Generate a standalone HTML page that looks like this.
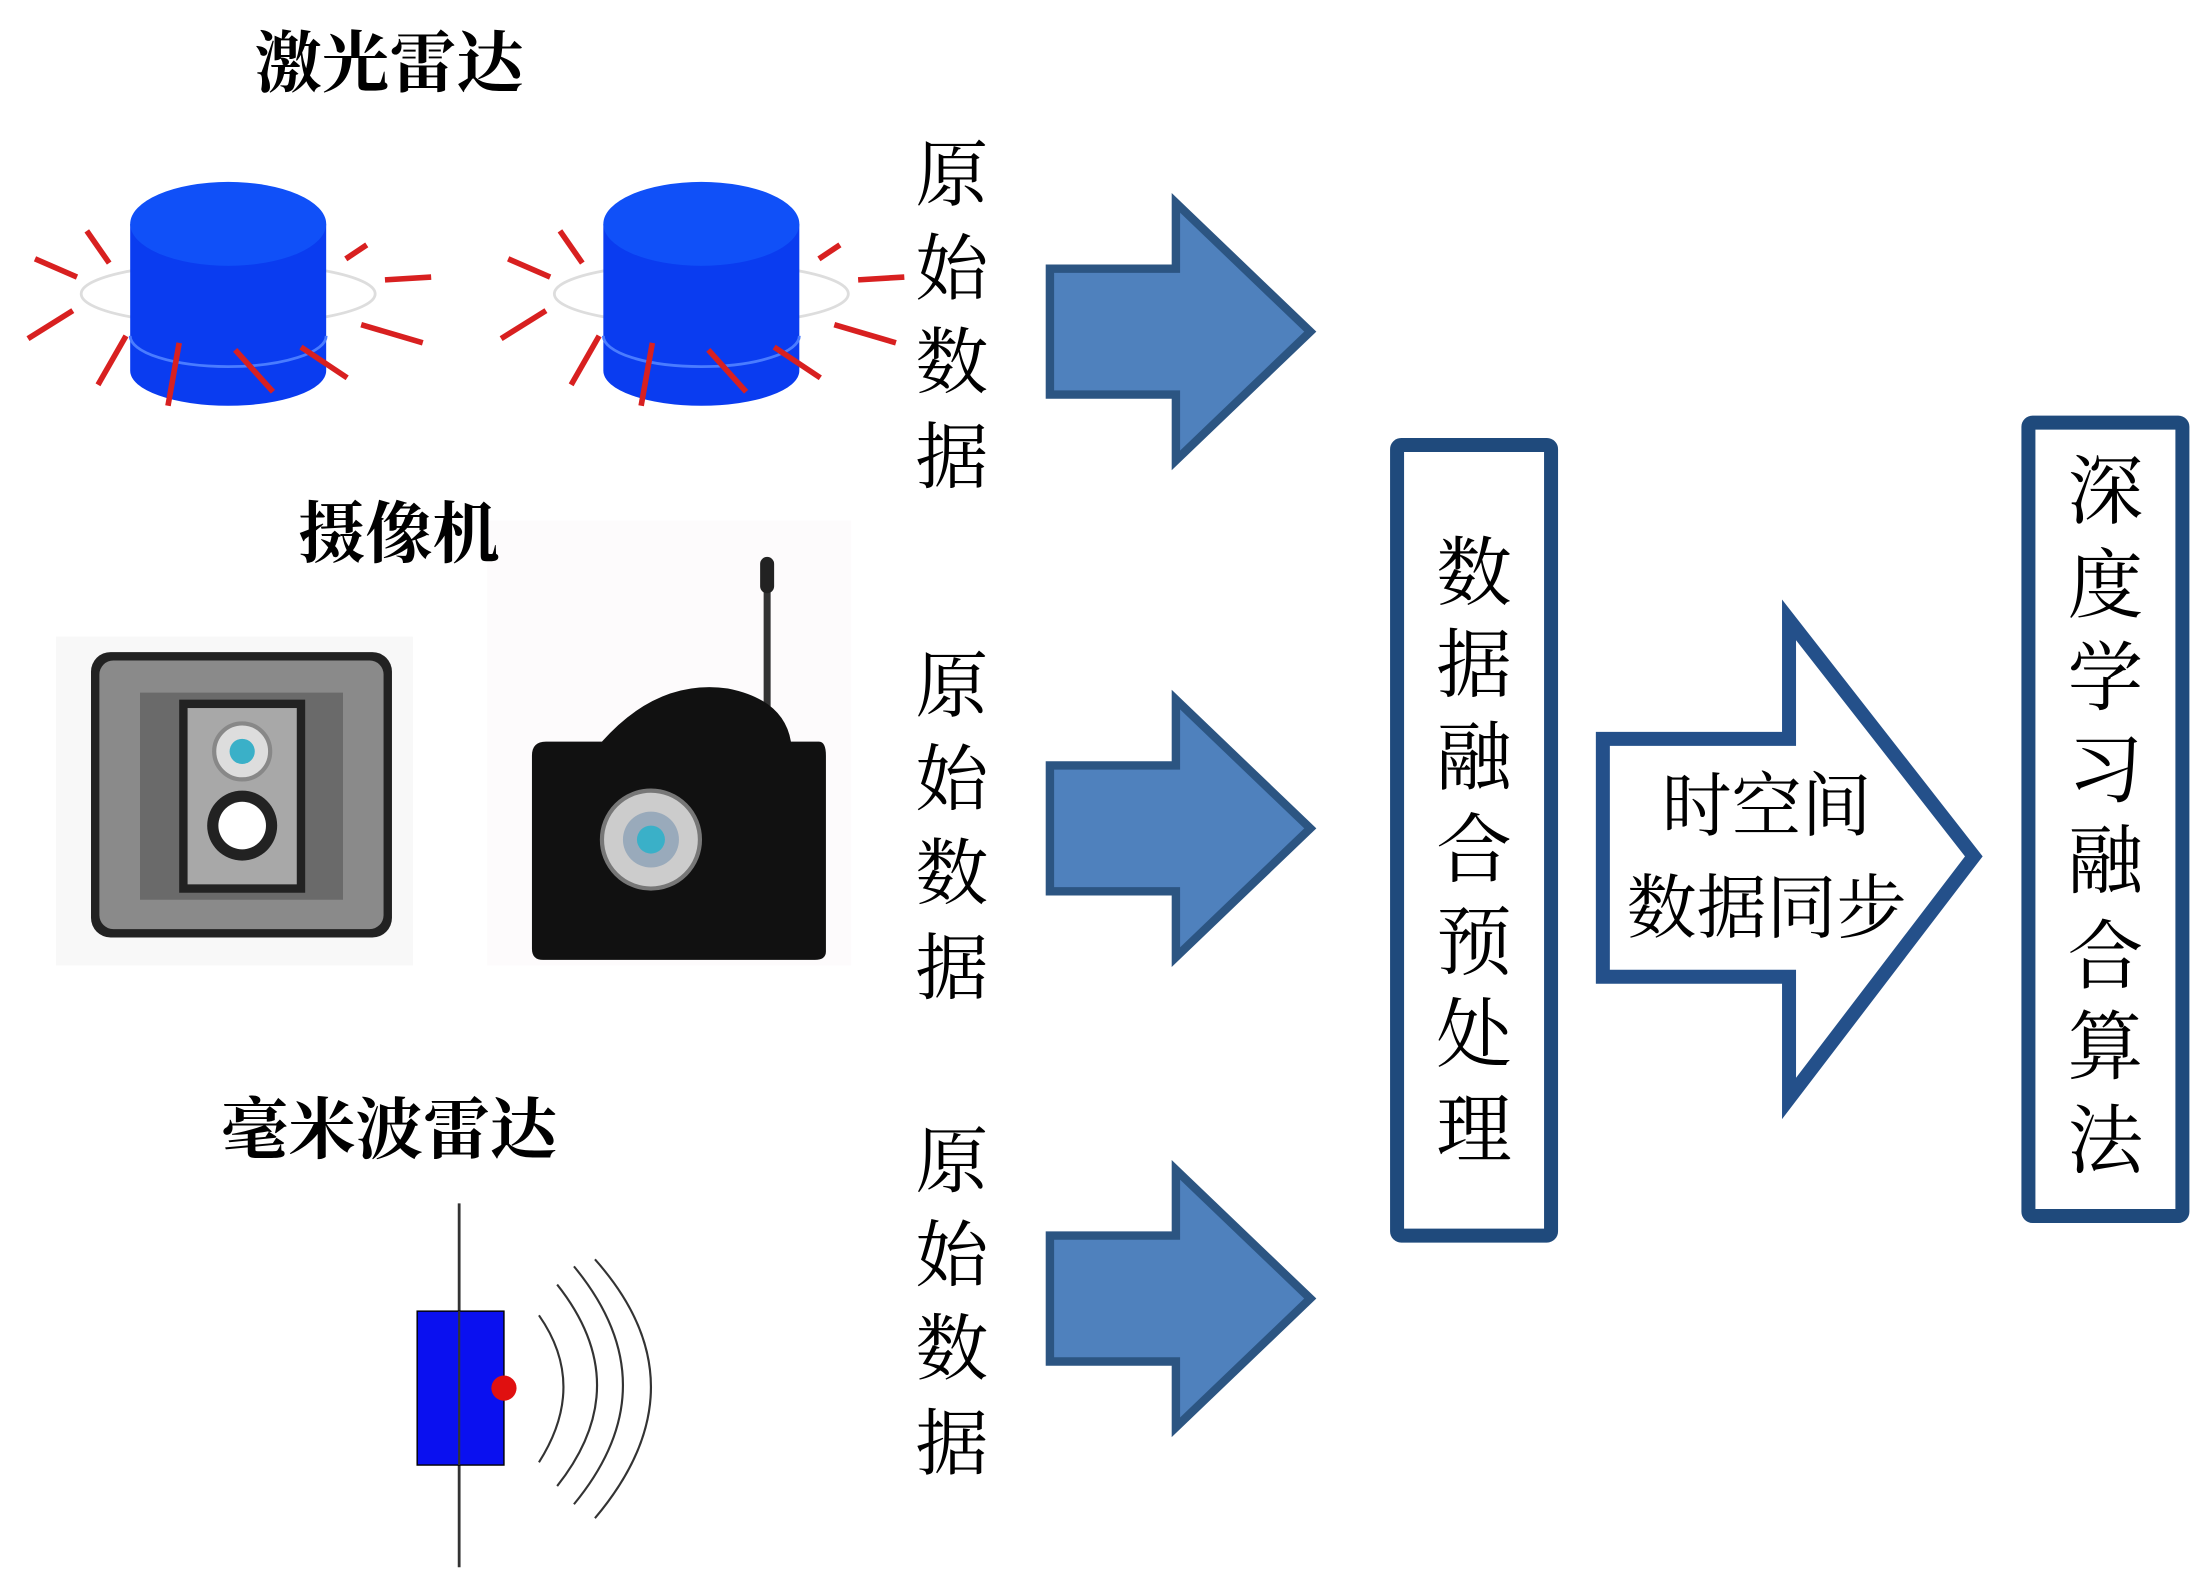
<!DOCTYPE html>
<html><head><meta charset="utf-8"><style>
html,body{margin:0;padding:0;background:#fff;}
svg{display:block;}
text{font-family:"Liberation Serif","Noto Serif CJK SC",serif;fill:#000;}
</style></head><body>
<svg width="2195" height="1577" viewBox="0 0 1568 1127" preserveAspectRatio="none" xmlns="http://www.w3.org/2000/svg">
<rect width="1568" height="1127" fill="#fff"/>

<!-- lidar 1 -->
<g id="lidar">
<ellipse cx="163" cy="210" rx="105" ry="22" fill="none" stroke="#ddd" stroke-width="2"/>
<path d="M93 160 L93 265 A70 25 0 0 0 233 265 L233 160 Z" fill="#0a3cf0"/>
<ellipse cx="163" cy="160" rx="70" ry="30" fill="#1050f8"/>
<path d="M93 240 A70 22 0 0 0 233 240" fill="none" stroke="#4a7cff" stroke-width="2"/>
<g stroke="#d82020" stroke-width="4">
<line x1="25" y1="185" x2="55" y2="198"/><line x1="20" y1="242" x2="52" y2="222"/>
<line x1="62" y1="165" x2="78" y2="188"/><line x1="70" y1="275" x2="90" y2="240"/>
<line x1="120" y1="290" x2="128" y2="245"/><line x1="168" y1="250" x2="195" y2="280"/>
<line x1="215" y1="248" x2="248" y2="270"/><line x1="258" y1="232" x2="302" y2="245"/>
<line x1="275" y1="200" x2="308" y2="198"/><line x1="247" y1="185" x2="262" y2="175"/>
</g>
</g>
<use href="#lidar" x="338"/>

<!-- camera 1 -->
<rect x="40" y="455" width="255" height="235" fill="#f8f8f8"/>
<rect x="65" y="466" width="215" height="204" rx="14" fill="#222"/>
<rect x="71" y="472" width="203" height="192" rx="10" fill="#8a8a8a"/>
<rect x="100" y="495" width="145" height="148" fill="#6a6a6a"/>
<rect x="128" y="500" width="90" height="138" fill="#222"/>
<rect x="134" y="506" width="78" height="126" fill="#a8a8a8"/>
<circle cx="173" cy="537" r="20" fill="#ddd" stroke="#888" stroke-width="3"/>
<circle cx="173" cy="537" r="9" fill="#3ab0c8"/>
<circle cx="173" cy="590" r="25" fill="#222"/>
<circle cx="173" cy="590" r="17" fill="#fff"/>
<!-- camera 2 -->
<rect x="348" y="372" width="260" height="318" fill="#fdfbfc"/>
<line x1="548" y1="410" x2="548" y2="530" stroke="#333" stroke-width="5"/>
<rect x="543" y="398" width="10" height="26" rx="5" fill="#222"/>
<path d="M390 530 L430 530 Q470 485 520 492 Q560 500 565 530 L585 530 Q590 530 590 540 L590 680 Q590 686 582 686 L388 686 Q380 686 380 678 L380 540 Q380 530 390 530Z" fill="#111"/>
<circle cx="465" cy="600" r="35" fill="#ccc" stroke="#777" stroke-width="3"/>
<circle cx="465" cy="600" r="20" fill="#9ab"/>
<circle cx="465" cy="600" r="10" fill="#3ab0c8"/>

<!-- radar -->
<line x1="328" y1="860" x2="328" y2="1120" stroke="#333" stroke-width="2"/>
<rect x="298" y="937" width="62" height="110" fill="#0a10f0" stroke="#000" stroke-width="1"/>
<line x1="328" y1="937" x2="328" y2="1047" stroke="#333" stroke-width="1.5"/>
<circle cx="360" cy="992" r="9" fill="#e01010"/>
<g fill="none" stroke="#333" stroke-width="1.5">
<path d="M385 940 Q420 990 385 1045"/>
<path d="M398 918 Q455 990 398 1062"/>
<path d="M410 905 Q480 990 410 1075"/>
<path d="M425 900 Q505 990 425 1085"/>
</g>

<!-- titles -->
<g font-weight="bold">
<text x="278" y="62" font-size="48" text-anchor="middle">激光雷达</text>
<text x="285" y="398" font-size="48" text-anchor="middle">摄像机</text>
<text x="278" y="824" font-size="48" text-anchor="middle">毫米波雷达</text>
</g>

<!-- raw data labels -->
<g font-size="52" text-anchor="middle">
<text x="680" y="143">原</text><text x="680" y="210">始</text><text x="680" y="277">数</text><text x="680" y="345">据</text>
<text x="680" y="508">原</text><text x="680" y="575">始</text><text x="680" y="642">数</text><text x="680" y="710">据</text>
<text x="680" y="848">原</text><text x="680" y="915">始</text><text x="680" y="982">数</text><text x="680" y="1050">据</text>
</g>

<!-- blue arrows -->
<g fill="#4f81bd" stroke="#2c5582" stroke-width="6" stroke-linejoin="miter">
<path d="M750 192 L840 192 L840 145 L936 237 L840 329 L840 282 L750 282 Z"/>
<path d="M750 547 L840 547 L840 500 L936 592 L840 684 L840 637 L750 637 Z"/>
<path d="M750 883 L840 883 L840 836 L936 928 L840 1020 L840 973 L750 973 Z"/>
</g>

<!-- box 1 -->
<rect x="998" y="318" width="110" height="565" fill="#fff" stroke="#1f4a7c" stroke-width="10" rx="3"/>
<g font-size="54" text-anchor="middle">
<text x="1053" y="428">数</text><text x="1053" y="494">据</text><text x="1053" y="560">融</text><text x="1053" y="626">合</text><text x="1053" y="692">预</text><text x="1053" y="758">处</text><text x="1053" y="826">理</text>
</g>

<!-- sync arrow -->
<path d="M1145 528 L1278 528 L1278 443 L1410 612 L1278 785 L1278 698 L1145 698 Z" fill="#fff" stroke="#24508a" stroke-width="10" stroke-linejoin="miter"/>
<text x="1262" y="593" font-size="50" text-anchor="middle">时空间</text>
<text x="1262" y="666" font-size="50" text-anchor="middle">数据同步</text>

<!-- box 2 -->
<rect x="1449" y="302" width="110" height="567" fill="#fff" stroke="#1f4a7c" stroke-width="10" rx="3"/>
<g font-size="54" text-anchor="middle">
<text x="1504" y="370">深</text><text x="1504" y="437">度</text><text x="1504" y="503">学</text><text x="1504" y="569">习</text><text x="1504" y="634">融</text><text x="1504" y="702">合</text><text x="1504" y="767">算</text><text x="1504" y="834">法</text>
</g>
</svg>
</body></html>
